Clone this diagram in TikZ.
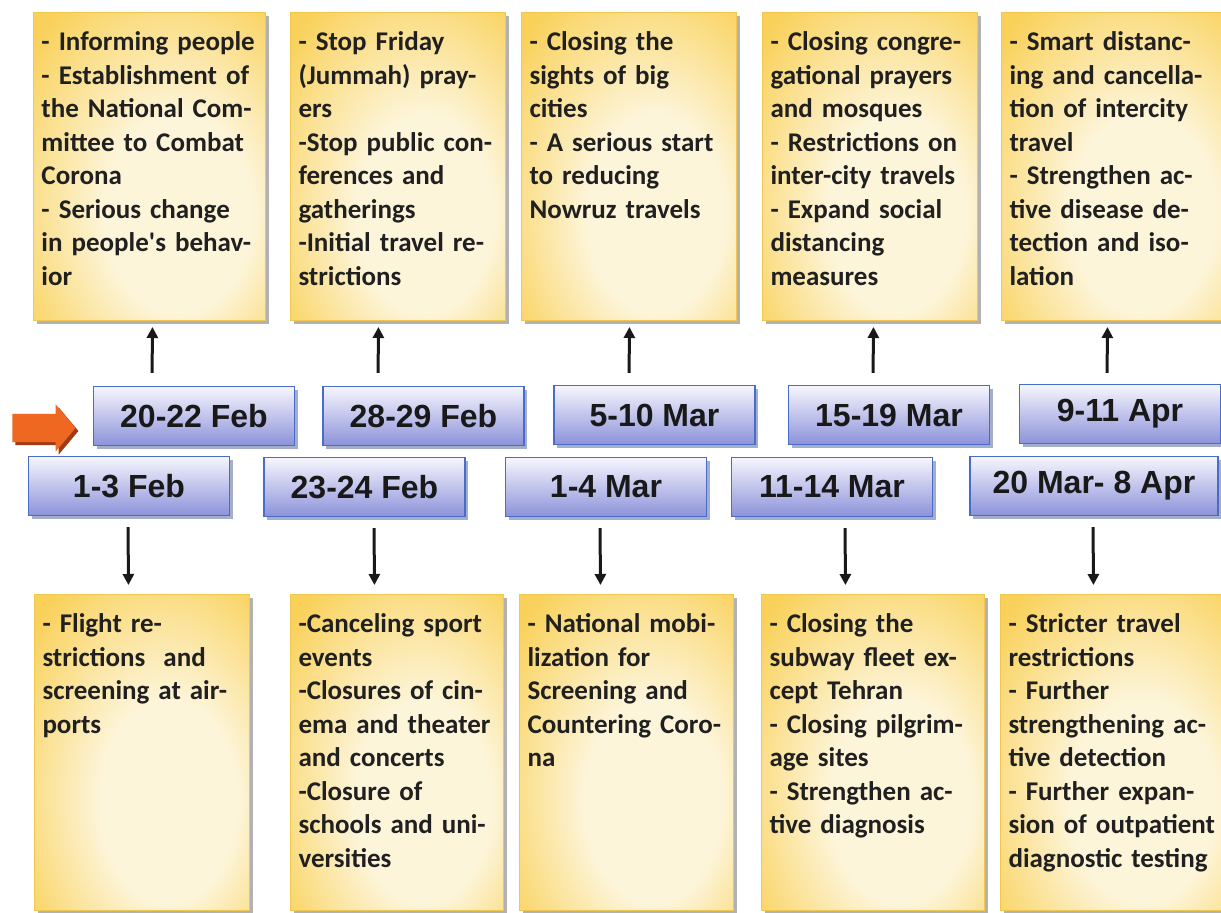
\documentclass[tikz,border=0pt]{standalone}
\usepackage{fontspec}
\newfontfamily\notefont{Carlito}
\newfontfamily\datefont{Liberation Sans}
\usetikzlibrary{arrows.meta,shadows,shapes.arrows}

\definecolor{noteyellow}{RGB}{249,209,90}
\definecolor{notecream}{RGB}{253,245,218}
\definecolor{noteedge}{RGB}{240,200,80}
\definecolor{datetop}{RGB}{246,246,253}
\definecolor{datebottom}{RGB}{140,146,218}
\definecolor{dateedge}{RGB}{72,108,200}
\definecolor{startorange}{RGB}{238,104,34}
\definecolor{startshadow}{RGB}{160,60,20}
\definecolor{inktext}{RGB}{32,32,32}

\pgfdeclareradialshading{notegrad}{\pgfpoint{8bp}{-10bp}}{color(0bp)=(notecream);color(16bp)=(notecream);color(38bp)=(noteyellow);color(70bp)=(noteyellow)}

\tikzset{
  note/.style={rectangle, anchor=north west, draw=noteedge, line width=1pt,
    shade, shading=notegrad, align=left, inner xsep=8pt, inner ysep=8pt,
    text height=30pt, text=inktext,
    font=\notefont\bfseries\fontsize{27}{33.5}\selectfont,
    drop shadow={shadow xshift=3pt, shadow yshift=-3pt, fill=black!55, opacity=.55}},
  topnote/.style={note, text depth=262pt},
  lownote/.style={note, text depth=270pt},
  datebox/.style={rectangle, draw=dateedge, line width=1.3pt,
    top color=datetop, bottom color=datebottom,
    minimum width=201pt, minimum height=59pt, text=black!90,
    font=\datefont\bfseries\fontsize{32}{38}\selectfont,
    drop shadow={shadow xshift=3pt, shadow yshift=-3pt, fill=dateedge!70!black, opacity=.45}},
  arr/.style={-{Triangle[length=11pt,width=11pt]}, line width=3pt, black!90}
}

\begin{document}
\begin{tikzpicture}[x=1pt,y=-1pt]
  \useasboundingbox (0,0) rectangle (1221,913);

  % measures, above the dates
  \node[topnote, text width=216pt] (up1) at (33,12) {- Informing people\\- Establishment of\\the National Com-\\mittee to Combat\\Corona\\- Serious change\\in people's behav-\\ior};
  \node[topnote, text width=199pt] (up2) at (290,12) {- Stop Friday\\(Jummah) pray-\\ers\\-Stop public con-\\ferences and\\gatherings\\-Initial travel re-\\strictions};
  \node[topnote, text width=199pt] (up3) at (521,12) {- Closing the\\sights of big\\cities\\- A serious start\\to reducing\\Nowruz travels};
  \node[topnote, text width=199pt] (up4) at (762,12) {- Closing congre-\\gational prayers\\and mosques\\- Restrictions on\\inter-city travels\\- Expand social\\distancing\\measures};
  \node[topnote, text width=211pt] (up5) at (1001,12) {- Smart distanc-\\ing and cancella-\\tion of intercity\\travel\\- Strengthen ac-\\tive disease de-\\tection and iso-\\lation};

  % measures, below the dates
  \node[lownote, text width=199pt] (low1) at (34,594) {- Flight re-\\strictions~ and\\screening at air-\\ports};
  \node[lownote, text width=197pt] (low2) at (290,594) {-Canceling sport\\events\\-Closures of cin-\\ema and theater\\and concerts\\-Closure of\\schools and uni-\\versities};
  \node[lownote, text width=198pt] (low3) at (519,594) {- National mobi-\\lization for\\Screening and\\Countering Coro-\\na};
  \node[lownote, text width=207pt] (low4) at (761,594) {- Closing the\\subway fleet ex-\\cept Tehran\\- Closing pilgrim-\\age sites\\- Strengthen ac-\\tive diagnosis};
  \node[lownote, text width=212pt] (low5) at (1000,594) {- Stricter travel\\restrictions\\- Further\\strengthening ac-\\tive detection\\- Further expan-\\sion of outpatient\\diagnostic testing};

  % dates
  \node[datebox] (feb20) at (194,416) {20-22 Feb};
  \node[datebox] (feb28) at (423.5,416) {28-29 Feb};
  \node[datebox] (mar5) at (654.5,415) {5-10 Mar};
  \node[datebox] (mar15) at (889,415) {15-19 Mar};
  \node[datebox] (apr9) at (1120,414) {9-11 Apr};
  \node[datebox] (feb1) at (129,486) {1-3 Feb};
  \node[datebox] (feb23) at (364.5,487) {23-24 Feb};
  \node[datebox] (mar1) at (606,487) {1-4 Mar};
  \node[datebox] (mar11) at (832,487) {11-14 Mar};
  \node[datebox, minimum width=248pt] (mar20) at (1094,486) {20 Mar- 8 Apr};

  % start
  \node[single arrow, fill=startorange, minimum height=63pt, minimum width=47pt,
    single arrow head extend=9.5pt, single arrow tip angle=100,
    inner xsep=0pt, inner ysep=14pt, text height=0pt, text depth=0pt,
    drop shadow={shadow xshift=3pt, shadow yshift=-3pt, fill=startshadow, opacity=1}] (start) at (38,428) {};

  \draw[arr, shorten <=13pt, shorten >=6pt] ([xshift=-42pt]feb20.north) -- ([xshift=3pt]up1.south);
  \draw[arr, shorten <=13pt, shorten >=6pt] ([xshift=-45.5pt]feb28.north) -- ([xshift=-19.5pt]up2.south);
  \draw[arr, shorten <=12pt, shorten >=6pt] ([xshift=-25.5pt]mar5.north) -- ([xshift=0.5pt]up3.south);
  \draw[arr, shorten <=12pt, shorten >=6pt] ([xshift=-16pt]mar15.north) -- ([xshift=3.5pt]up4.south);
  \draw[arr, shorten <=11pt, shorten >=6pt] ([xshift=-13pt]apr9.north) -- ([xshift=-7.5pt]up5.south);

  \draw[arr, shorten <=11pt, shorten >=9pt] ([xshift=-1pt]feb1.south) -- ([xshift=-13.5pt]low1.north);
  \draw[arr, shorten <=11pt, shorten >=9pt] ([xshift=9.5pt]feb23.south) -- ([xshift=-22.5pt]low2.north);
  \draw[arr, shorten <=11pt, shorten >=9pt] ([xshift=-6pt]mar1.south) -- ([xshift=-26pt]low3.north);
  \draw[arr, shorten <=11pt, shorten >=9pt] ([xshift=13pt]mar11.south) -- ([xshift=-27.5pt]low4.north);
  \draw[arr, shorten <=11pt, shorten >=9pt] ([xshift=-1pt]mar20.south) -- ([xshift=-21pt]low5.north);
\end{tikzpicture}
\end{document}
